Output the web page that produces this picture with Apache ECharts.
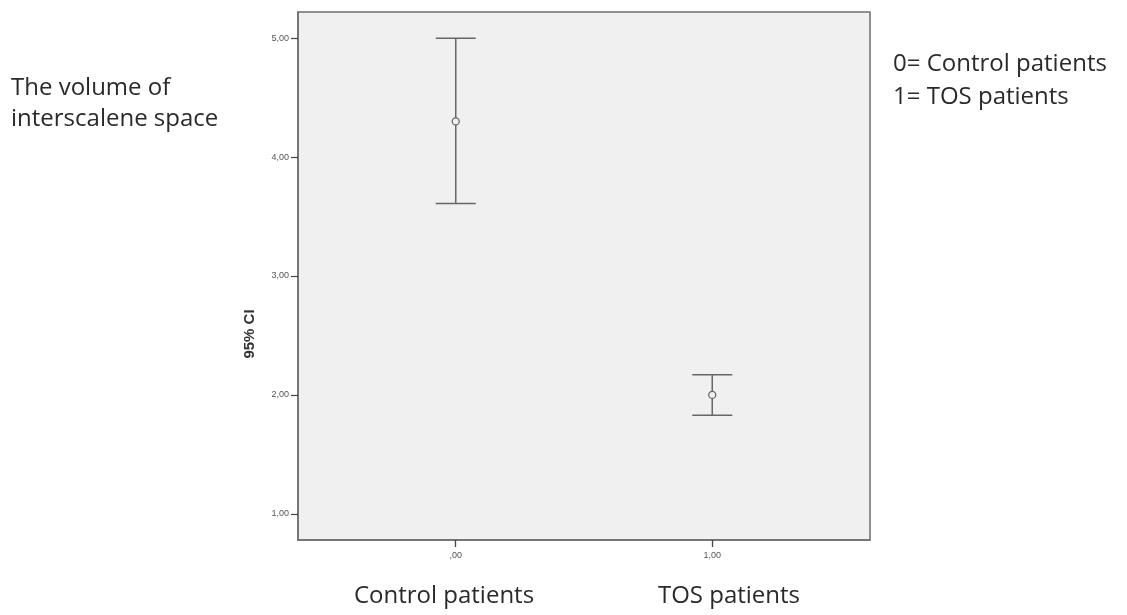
<!DOCTYPE html>
<html><head><meta charset="utf-8">
<script src="https://cdn.jsdelivr.net/npm/echarts@6/dist/echarts.min.js"></script>
<style>html,body{margin:0;padding:0;background:#fff}#c{width:1127px;height:615px}</style>
</head><body><div id="c"></div>
<script>
const groups = [0, 1];
const groupNames = ['Control patients', 'TOS patients'];
const means = [4.30, 2.00];
const lowers = [3.61, 1.83];
const uppers = [5.00, 2.17];
const yTicks = [1, 2, 3, 4, 5];
const xTicks = [0, 1];
const yAxisTitle = '95% CI';

const fmt = v => { let s = v.toFixed(2).replace('.', ','); return s.startsWith('0,') ? s.slice(1) : s; };

const data = groups.map((g, i) => [g, lowers[i], means[i], uppers[i]]);
const chart = echarts.init(document.getElementById('c'));
const lineCol = '#6e6e6e';
chart.setOption({
  animation: false,
  backgroundColor: '#fff',
  grid: { left: 298, top: 12, width: 572, height: 528, show: true, backgroundColor: '#f0f0f0', borderColor: lineCol, borderWidth: 1.5 },
  xAxis: {
    type: 'value', min: -0.615, max: 1.615,
    axisLine: { show: true, onZero: false, lineStyle: { color: lineCol, width: 1.5 } },
    splitLine: { show: false },
    axisTick: { show: true, inside: false, customValues: xTicks, length: 7, lineStyle: { color: '#444', width: 1.3 } },
    axisLabel: { customValues: xTicks, formatter: fmt, fontSize: 9, color: '#555', fontFamily: 'Liberation Sans', margin: 11 }
  },
  yAxis: {
    type: 'value', min: 0.78, max: 5.22,
    axisLine: { show: true, onZero: false, lineStyle: { color: lineCol, width: 1.5 } },
    splitLine: { show: false },
    axisTick: { show: true, inside: false, customValues: yTicks, length: 7, lineStyle: { color: '#444', width: 1.2 } },
    axisLabel: { customValues: yTicks, formatter: fmt, fontSize: 9, color: '#555', fontFamily: 'Liberation Sans', margin: 9 }
  },
  series: [{
    type: 'custom',
    data: data,
    encode: { x: 0, y: [1, 2, 3] },
    renderItem: function (params, api) {
      const x = api.value(0);
      const lo = api.coord([x, api.value(1)]);
      const mid = api.coord([x, api.value(2)]);
      const hi = api.coord([x, api.value(3)]);
      const hw = 20;
      const st = { stroke: '#666', lineWidth: 1.5 };
      return {
        type: 'group',
        children: [
          { type: 'line', shape: { x1: hi[0], y1: hi[1], x2: lo[0], y2: lo[1] }, style: st },
          { type: 'line', shape: { x1: hi[0] - hw, y1: hi[1], x2: hi[0] + hw, y2: hi[1] }, style: st },
          { type: 'line', shape: { x1: lo[0] - hw, y1: lo[1], x2: lo[0] + hw, y2: lo[1] }, style: st },
          { type: 'circle', shape: { cx: mid[0], cy: mid[1], r: 3.5 }, style: { fill: '#f0f0f0', stroke: '#666', lineWidth: 1.3 } }
        ]
      };
    }
  }],
  graphic: [
    { type: 'text', x: 250, y: 334, rotation: Math.PI / 2, style: { text: yAxisTitle, font: 'bold 15px "Liberation Sans"', fill: '#333', align: 'center', verticalAlign: 'middle' } },
    { type: 'text', left: 11, top: 73, style: { text: 'The volume of\ninterscalene space', font: '24px "Open Sans"', fill: '#2a2a2a', lineHeight: 31 } },
    { type: 'text', left: 893, top: 48, style: { text: '0= Control patients\n1= TOS patients', font: '24px "Open Sans"', fill: '#2a2a2a', lineHeight: 33 } },
    { type: 'text', x: 444, y: 596, style: { text: groupNames[0], font: '24px "Open Sans"', fill: '#2a2a2a', align: 'center', verticalAlign: 'middle' } },
    { type: 'text', x: 729, y: 596, style: { text: groupNames[1], font: '24px "Open Sans"', fill: '#2a2a2a', align: 'center', verticalAlign: 'middle' } }
  ]
});
</script></body></html>
